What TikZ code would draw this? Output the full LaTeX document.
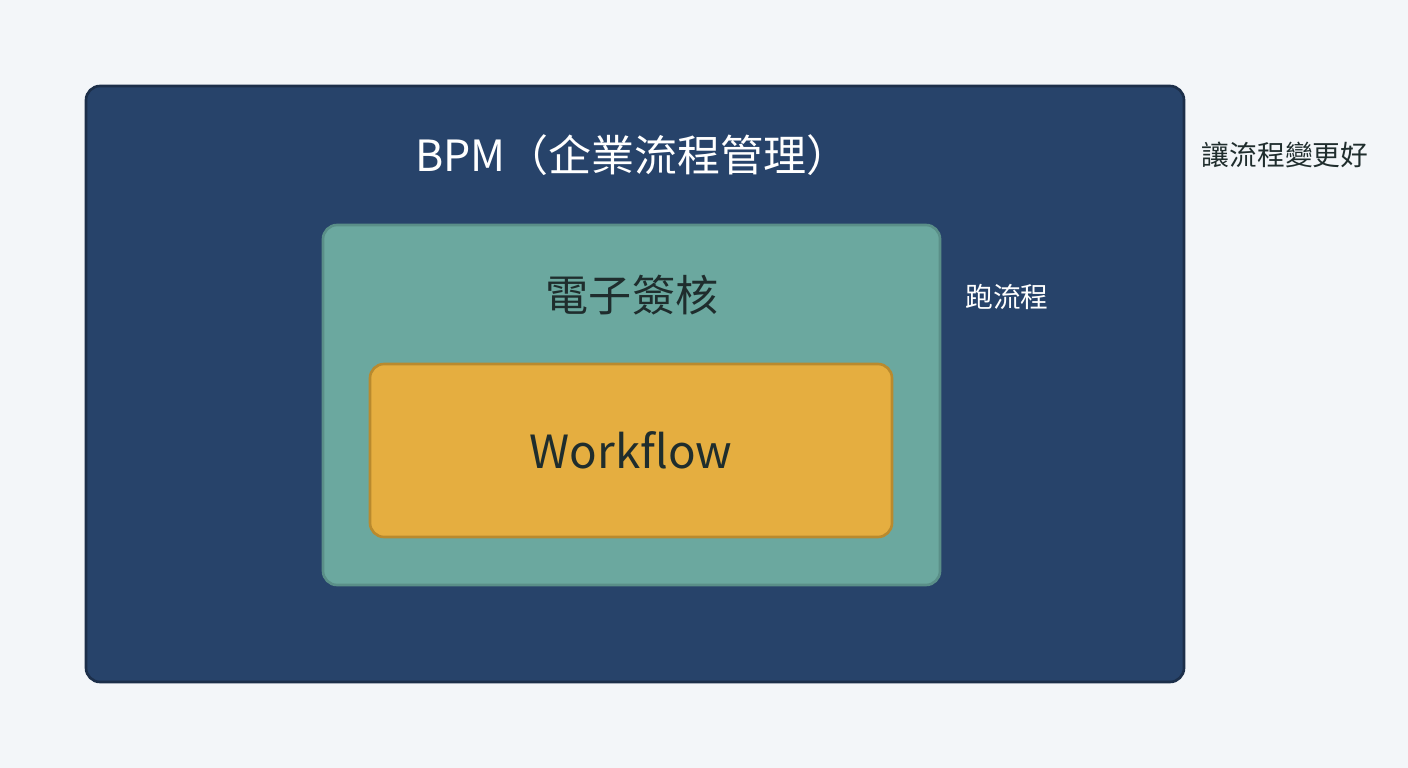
\documentclass[tikz,border=0pt]{standalone}
\usepackage{fontspec}
\setmainfont{Noto Sans CJK TC}
\usetikzlibrary{positioning}
\definecolor{bgcol}{HTML}{F3F6F9}
\definecolor{bpmfill}{HTML}{27436A}
\definecolor{bpmdraw}{HTML}{1C2F4A}
\definecolor{signfill}{HTML}{6BA89F}
\definecolor{signdraw}{HTML}{5A8F88}
\definecolor{flowfill}{HTML}{E5AE40}
\definecolor{flowdraw}{HTML}{B98A2E}
\definecolor{darktext}{HTML}{1F2D2D}
\tikzstyle{bpm} = [rectangle, rounded corners=8pt, minimum width=21.96cm, minimum height=11.92cm, draw=bpmdraw, line width=1.5pt, fill=bpmfill]
\tikzstyle{sign} = [rectangle, rounded corners=8pt, minimum width=12.34cm, minimum height=7.2cm, draw=signdraw, line width=1.5pt, fill=signfill]
\tikzstyle{flow} = [rectangle, rounded corners=8pt, minimum width=10.44cm, minimum height=3.46cm, draw=flowdraw, line width=1.5pt, fill=flowfill, font=\fontsize{26}{30}\selectfont, text=darktext]
\tikzstyle{title} = [font=\fontsize{24.5}{28}\selectfont]
\tikzstyle{side} = [font=\fontsize{15.8}{19}\selectfont]
\begin{document}
\begin{tikzpicture}
\fill[bgcol] (0,0) rectangle (28.16,-15.36);
\useasboundingbox (0,0) rectangle (28.16,-15.36);
\node (bpm) [bpm] at (12.70,-7.68) {};
\node (sign) [sign] at (12.63,-8.10) {};
\node (flow) [flow] at (12.62,-9.01) {Workflow};
\node (bpmtitle) [title, text=white] at (12.65,-3.10) {BPM（企業流程管理）};
\node (signtitle) [title, text=darktext] at (12.64,-5.90) {電子簽核};
\node (better) [side, text=darktext] at (25.70,-3.10) {讓流程變更好};
\node (run) [side, text=white] at (20.14,-5.94) {跑流程};
\end{tikzpicture}
\end{document}
